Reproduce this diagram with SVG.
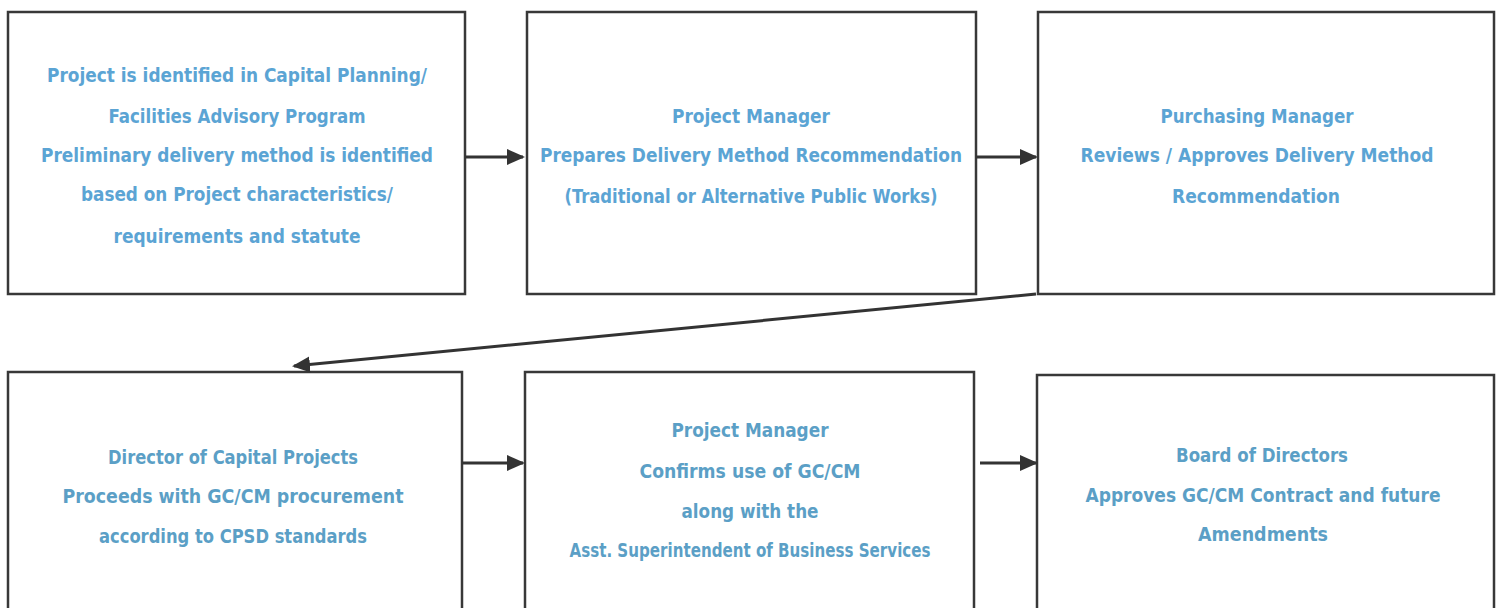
<svg xmlns="http://www.w3.org/2000/svg" width="1501" height="608" viewBox="0 0 1501 608">
<style>
.box{fill:#fff;stroke:#383838;stroke-width:2.5}
.t{font-family:"Liberation Sans Narrow","DejaVu Sans Condensed","Liberation Sans",sans-serif;font-weight:bold;font-size:20px;text-anchor:middle;fill:#5ba4d4}
.b .t{fill:#5b9fc6}
.c{stroke:#333;stroke-width:3;fill:none}
</style>
<defs>
<marker id="ah" markerWidth="10" markerHeight="10" refX="7" refY="5" orient="auto" markerUnits="userSpaceOnUse" viewBox="0 0 10 10">
<path d="M0,0 L10,5 L0,10 Z" fill="#333"/>
</marker>
<marker id="ah2" markerWidth="18" markerHeight="18" refX="16" refY="9" orient="auto" markerUnits="userSpaceOnUse" viewBox="0 0 18 18">
<path d="M0,1 L18,9 L0,17 Z" fill="#333"/>
</marker>
</defs>
<rect width="1501" height="608" fill="#fff"/>
<g id="n1"><rect class="box" x="8" y="12" width="457" height="282"/>
<text class="t" x="237" y="82" textLength="380" lengthAdjust="spacingAndGlyphs">Project is identified in Capital Planning/</text>
<text class="t" x="237" y="123" textLength="257" lengthAdjust="spacingAndGlyphs">Facilities Advisory Program</text>
<text class="t" x="237" y="162" textLength="392" lengthAdjust="spacingAndGlyphs">Preliminary delivery method is identified</text>
<text class="t" x="237" y="201" textLength="312" lengthAdjust="spacingAndGlyphs">based on Project characteristics/</text>
<text class="t" x="237" y="243" textLength="247" lengthAdjust="spacingAndGlyphs">requirements and statute</text></g>
<g id="n2"><rect class="box" x="527" y="12" width="449" height="282"/>
<text class="t" x="751" y="123" textLength="158" lengthAdjust="spacingAndGlyphs">Project Manager</text>
<text class="t" x="751" y="162" textLength="422" lengthAdjust="spacingAndGlyphs">Prepares Delivery Method Recommendation</text>
<text class="t" x="751" y="203" textLength="373" lengthAdjust="spacingAndGlyphs">(Traditional or Alternative Public Works)</text></g>
<g id="n3"><rect class="box" x="1038" y="12" width="456" height="282"/>
<text class="t" x="1257" y="123" textLength="193" lengthAdjust="spacingAndGlyphs">Purchasing Manager</text>
<text class="t" x="1257" y="162" textLength="353" lengthAdjust="spacingAndGlyphs">Reviews / Approves Delivery Method</text>
<text class="t" x="1256" y="203" textLength="168" lengthAdjust="spacingAndGlyphs">Recommendation</text></g>
<g id="n4" class="b"><rect class="box" x="8" y="372" width="454" height="250"/>
<text class="t" x="233" y="464" textLength="250" lengthAdjust="spacingAndGlyphs">Director of Capital Projects</text>
<text class="t" x="233" y="503" textLength="341" lengthAdjust="spacingAndGlyphs">Proceeds with GC/CM procurement</text>
<text class="t" x="233" y="543" textLength="268" lengthAdjust="spacingAndGlyphs">according to CPSD standards</text></g>
<g id="n5" class="b"><rect class="box" x="525" y="372" width="449" height="250"/>
<text class="t" x="750" y="437" textLength="157" lengthAdjust="spacingAndGlyphs">Project Manager</text>
<text class="t" x="750" y="478" textLength="221" lengthAdjust="spacingAndGlyphs">Confirms use of GC/CM</text>
<text class="t" x="750" y="518" textLength="137" lengthAdjust="spacingAndGlyphs">along with the</text>
<text class="t" x="750" y="557" textLength="361" lengthAdjust="spacingAndGlyphs">Asst. Superintendent of Business Services</text></g>
<g id="n6" class="b"><rect class="box" x="1037" y="375" width="457" height="250"/>
<text class="t" x="1262" y="462" textLength="172" lengthAdjust="spacingAndGlyphs">Board of Directors</text>
<text class="t" x="1263" y="502" textLength="355" lengthAdjust="spacingAndGlyphs">Approves GC/CM Contract and future</text>
<text class="t" x="1263" y="541" textLength="130" lengthAdjust="spacingAndGlyphs">Amendments</text></g>
<g id="connectors">
<line class="c" x1="465" y1="157" x2="523" y2="157" marker-end="url(#ah2)"/>
<line class="c" x1="976" y1="157" x2="1036" y2="157" marker-end="url(#ah2)"/>
<line class="c" x1="1036" y1="294" x2="294" y2="366" stroke-width="2.5" marker-end="url(#ah2)"/>
<line class="c" x1="462" y1="463" x2="523" y2="463" marker-end="url(#ah2)"/>
<line class="c" x1="980" y1="463" x2="1036" y2="463" marker-end="url(#ah2)"/>
</g>
</svg>
